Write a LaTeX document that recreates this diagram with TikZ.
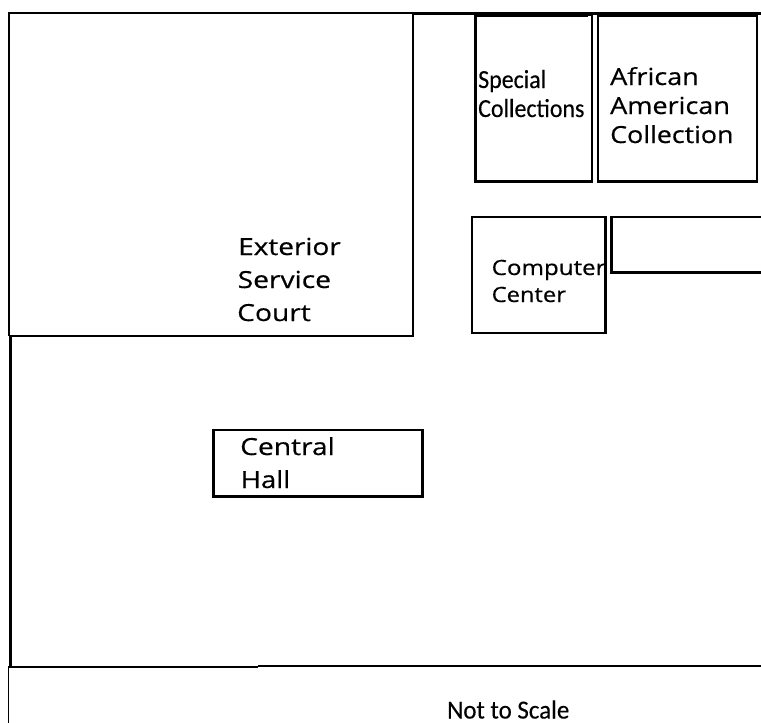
\documentclass[tikz,border=0pt]{standalone}
\usepackage{fontspec}
\setmainfont{Open Sans}[BoldFont={Open Sans},BoldFeatures={FakeBold=0.5}]
\newfontfamily\narrowf{Carlito}[BoldFont={Carlito},BoldFeatures={FakeBold=0.3}]
\newcommand{\sx}[2]{\scalebox{#1}[1]{#2}}
\tikzset{lbl/.style={anchor=base west,inner sep=0pt,text=black,font=\bfseries\fontsize{23.5}{24}\selectfont},
lblsmall/.style={anchor=base west,inner sep=0pt,text=black,font=\bfseries\fontsize{21}{22}\selectfont},
nlbl/.style={anchor=base west,inner sep=0pt,text=black,font=\narrowf\bfseries\fontsize{26}{26}\selectfont},
room/.style={draw=black,line width=2.2pt}}
\begin{document}
\begin{tikzpicture}[x=1pt,y=-1pt]
\useasboundingbox (0,0) rectangle (761,723);
\fill[white] (0,0) rectangle (761,723);
% outer walls
\draw[line width=1.5pt] (761,13) -- (9,13) -- (9,336);
\draw[line width=1.3pt] (8.5,666) -- (8.5,723);
\draw[line width=3pt] (413,13) -- (761,13);
\draw[line width=3pt] (10,336) -- (10,476);
\draw[line width=3.6pt] (10.5,476) -- (10.5,667);
\draw[room] (9,335.7) -- (412.7,335.7) -- (412.7,13);
\draw[line width=1.4pt] (9,667) -- (258,667);
\draw[line width=2pt] (258,666.3) -- (761,666.3);
% rooms
\draw[room] (475.5,15) rectangle (592,181.5);
\draw[line width=3.5pt] (475,15.5) -- (588,15.5);
\draw[room] (598,16) rectangle (757,181.5);
\draw[room] (471.7,217) rectangle (605.5,333);
\draw[room] (761,217) -- (611.5,217) -- (611.5,272.5) -- (761,272.5);
\draw[room] (213.5,430) rectangle (422.5,496.5);
% labels
\node[nlbl] (sc1) at (478,88) {\sx{0.92}{Special}};
\node[nlbl] (sc2) at (478,117) {\sx{0.92}{Collections}};
\node[lbl] (aa1) at (610,85) {\sx{1.15}{African}};
\node[lbl] (aa2) at (610,114) {\sx{1.15}{American}};
\node[lbl] (aa3) at (610,143) {\sx{1.14}{Collection}};
\node[lblsmall] (cc1) at (491.5,275) {\sx{1.15}{Computer}};
\node[lblsmall] (cc2) at (491.5,302) {\sx{1.13}{Center}};
\node[lbl] (es1) at (238,255) {\sx{1.19}{Exterior}};
\node[lbl] (es2) at (237.5,288) {\sx{1.2}{Service}};
\node[lbl] (es3) at (237,321) {\sx{1.2}{Court}};
\node[lbl] (ch1) at (240,455) {\sx{1.2}{Central}};
\node[lbl] (ch2) at (240.5,488) {\sx{1.17}{Hall}};
\node[nlbl] (ns) at (447,718.5) {\sx{0.96}{Not to Scale}};
\end{tikzpicture}
\end{document}
